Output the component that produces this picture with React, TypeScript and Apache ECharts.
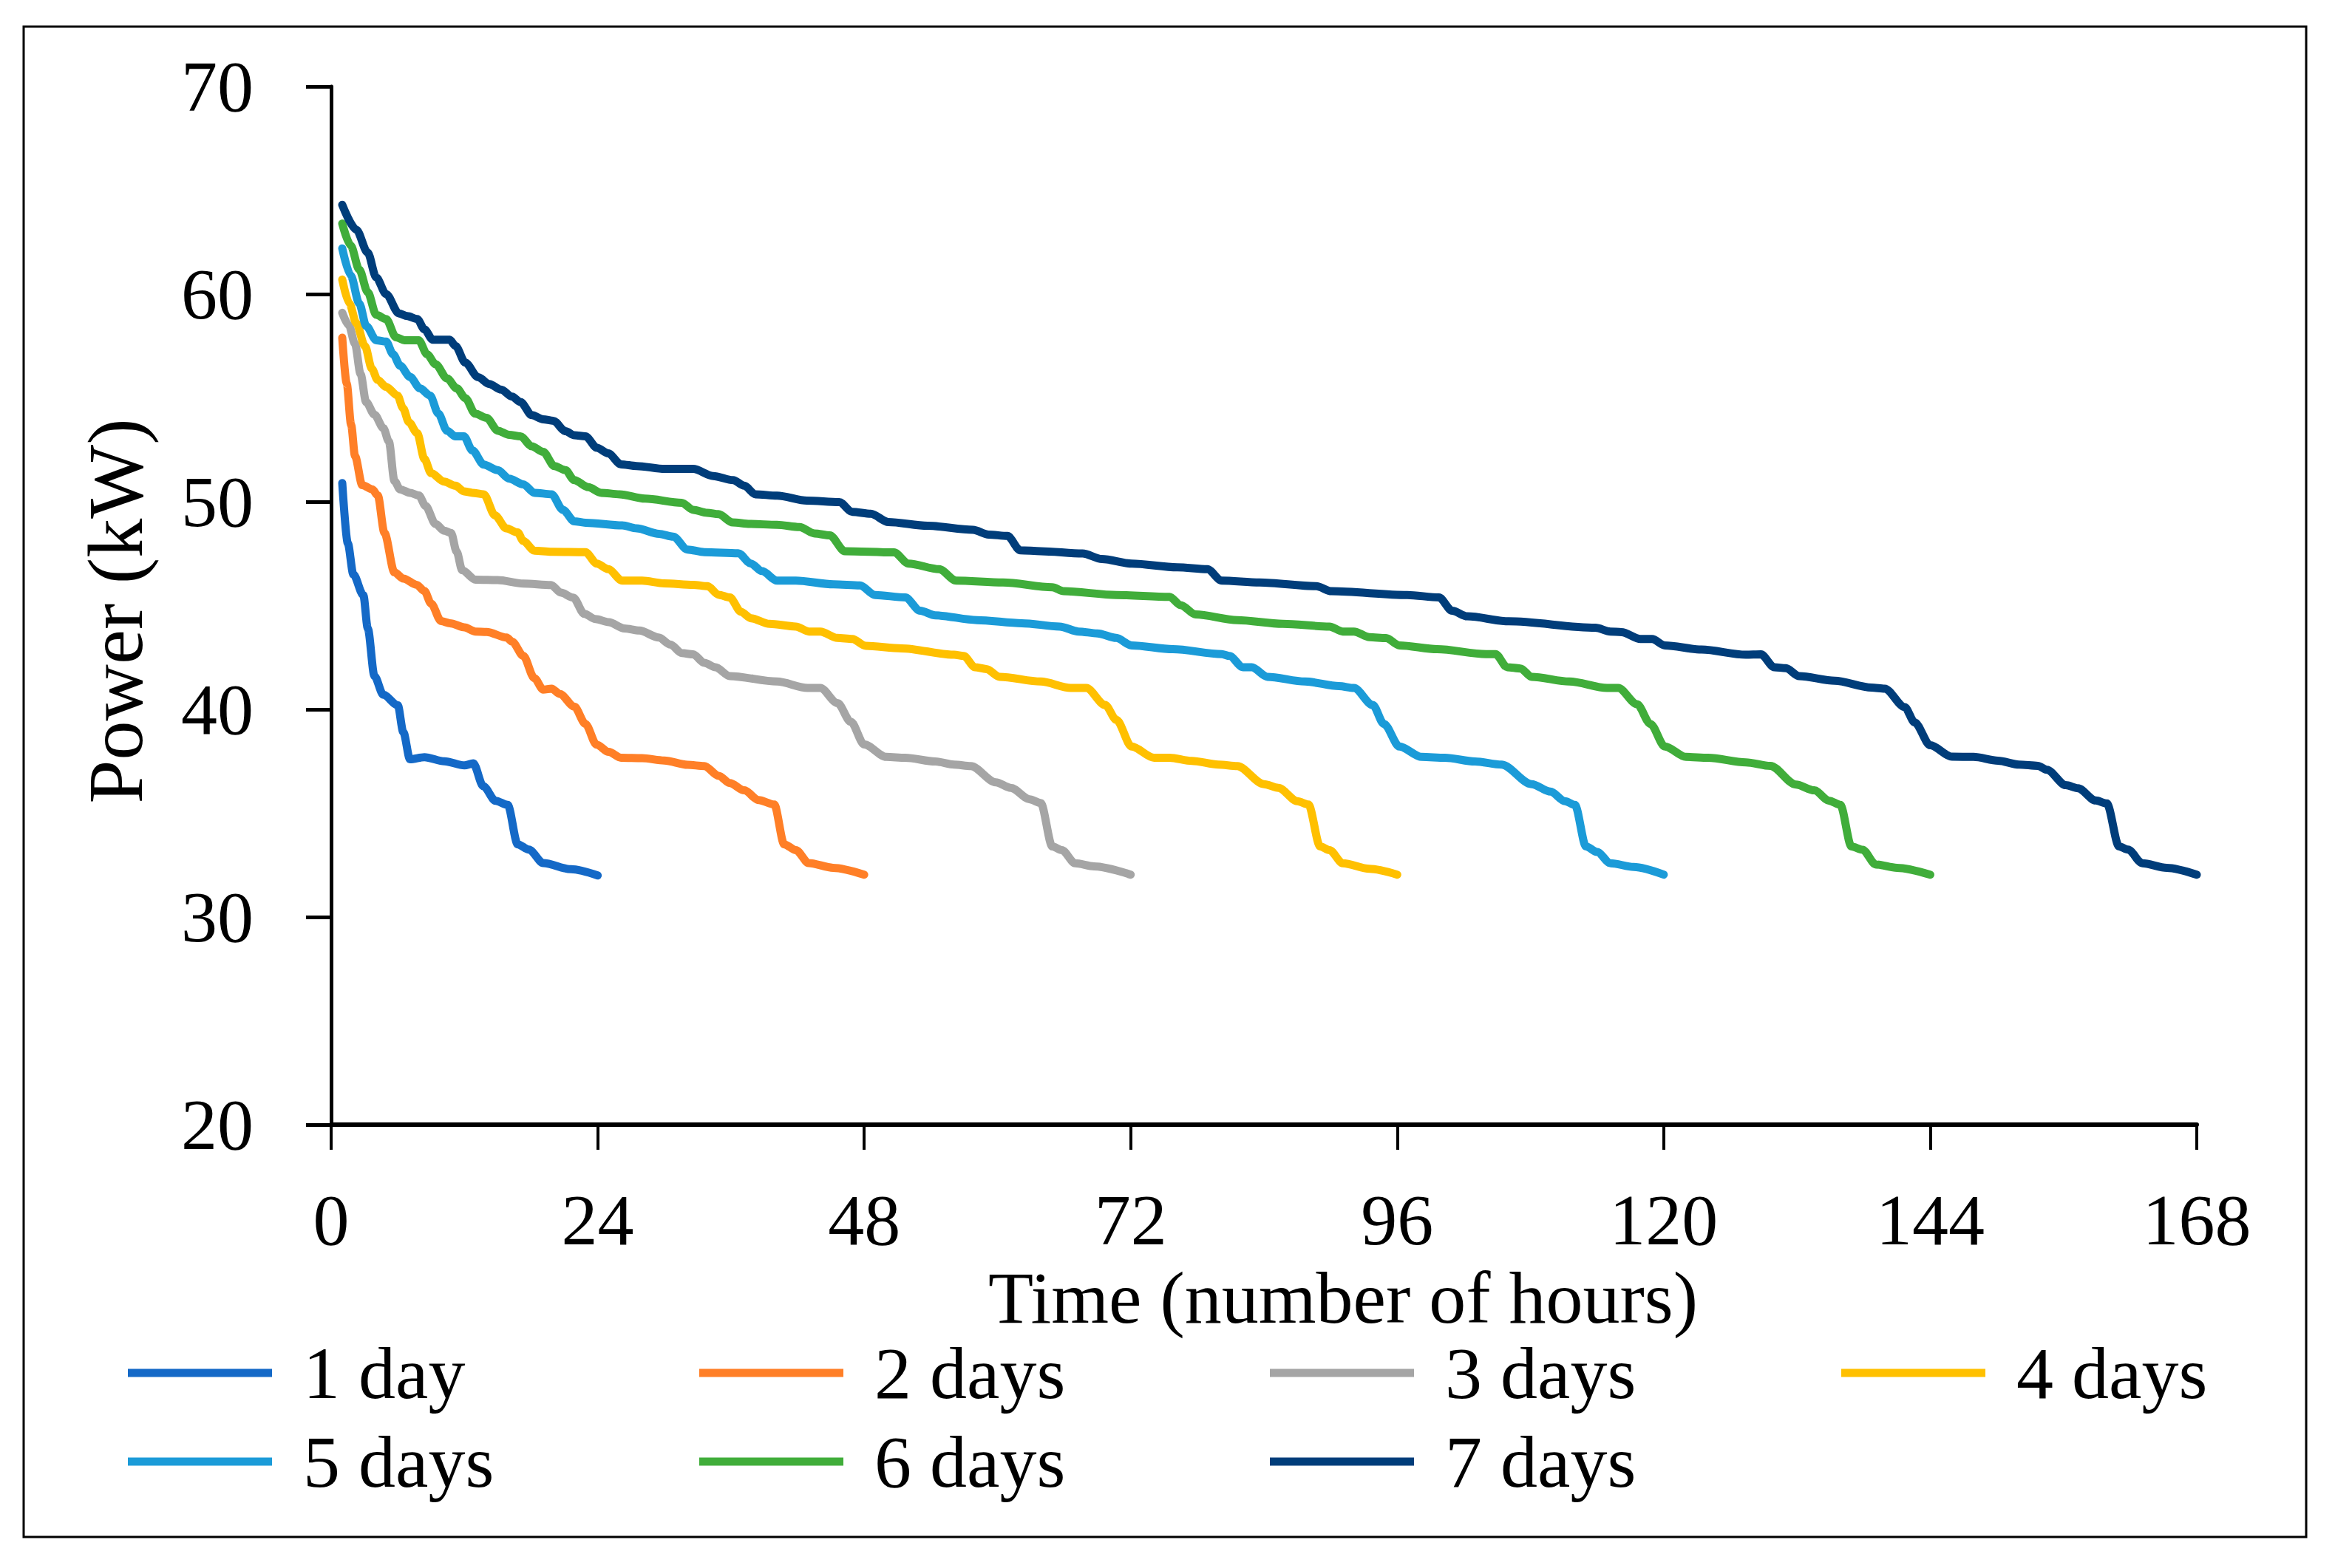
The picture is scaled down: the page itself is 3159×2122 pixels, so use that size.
import React, { useEffect, useRef } from "react";
import * as echarts from "echarts";

const seriesNames = ["1 day", "2 days", "3 days", "4 days", "5 days", "6 days", "7 days"];
const seriesColors = ["#1469C7", "#FF7F27", "#A5A5A5", "#FFC000", "#1B9BD8", "#40AD3A", "#003D7A"];
const xTicks = [0, 24, 48, 72, 96, 120, 144, 168];
const yTicks = [20, 30, 40, 50, 60, 70];

const day1 = [[1,50.9],[1.5,48.0],[2.0,46.5],[2.9,45.5],[3.3,43.9],[3.9,41.6],[4.7,40.7],[6.0,40.2],[6.5,38.9],[7.1,37.6],[8.4,37.7],[10.2,37.5],[12.0,37.3],[12.8,37.4],[13.7,36.3],[14.8,35.6],[15.9,35.4],[16.8,33.5],[17.8,33.25],[19.1,32.6],[21.6,32.3],[24,32.0]];

const day2 = [[1,57.9],[1.4,55.7],[1.8,53.7],[2.15,52.2],[2.8,50.8],[3.7,50.6],[4.2,50.3],[4.8,48.5],[5.7,46.6],[6.5,46.3],[7.7,46.0],[8.4,45.7],[9.0,45.1],[9.9,44.25],[10.7,44.15],[12.0,43.95],[13.0,43.75],[14.0,43.73],[15.8,43.46],[16.3,43.26],[17.3,42.58],[18.3,41.5],[19.1,40.95],[19.85,41.0],[20.6,40.74],[21.9,40.13],[22.9,39.3],[23.9,38.3],[25.0,37.95],[26.1,37.67],[28.0,37.65],[30.0,37.54],[32.1,37.33],[33.6,37.27],[34.9,36.8],[35.9,36.45],[37.2,36.1],[38.5,35.63],[39.9,35.42],[40.8,33.5],[41.85,33.22],[43.0,32.6],[45.2,32.37],[48,32.04]];

const day3 = [[1,59.1],[1.6,58.5],[2.15,57.6],[2.65,56.15],[3.15,54.8],[3.9,54.2],[4.7,53.55],[5.2,52.9],[5.7,51.0],[6.2,50.6],[7.1,50.43],[7.9,50.3],[8.5,49.8],[9.4,48.93],[10.2,48.6],[10.8,48.5],[11.3,47.6],[11.8,46.7],[13.0,46.25],[15.0,46.23],[17.3,46.06],[19.8,45.99],[20.7,45.62],[21.8,45.38],[22.8,44.6],[23.8,44.35],[25.0,44.2],[26.4,43.9],[27.75,43.8],[29.5,43.46],[30.55,43.12],[31.57,42.71],[32.6,42.65],[33.6,42.24],[34.6,42.03],[35.9,41.6],[40.15,41.34],[42.9,41.03],[44.05,41.03],[45.6,40.3],[46.8,39.4],[48.0,38.31],[50.0,37.71],[51.7,37.67],[54.4,37.49],[56.1,37.34],[57.6,37.27],[59.85,36.49],[61.2,36.22],[62.9,35.67],[63.9,35.49],[64.94,33.4],[65.8,33.22],[67.0,32.59],[68.7,32.44],[72,32.04]];

const day4 = [[1,60.7],[1.64,59.55],[2.27,58.6],[3.04,57.5],[3.67,56.4],[4.18,55.87],[4.95,55.53],[5.97,55.12],[6.48,54.5],[7.0,53.83],[7.75,53.3],[8.4,52.06],[9.0,51.38],[10.17,50.97],[11.2,50.77],[11.95,50.5],[12.72,50.43],[13.74,50.36],[14.76,49.34],[15.77,48.72],[16.8,48.52],[17.3,48.11],[18.32,47.64],[19.85,47.59],[22.9,47.57],[23.93,47.02],[24.95,46.75],[26.22,46.2],[28.0,46.2],[30.0,46.07],[32.6,46.0],[33.9,45.93],[34.9,45.52],[35.9,45.39],[36.9,44.7],[37.8,44.39],[39.47,44.12],[41.85,43.99],[43.03,43.75],[44.05,43.75],[45.58,43.44],[46.94,43.39],[48.13,43.06],[51.36,42.94],[56.1,42.63],[56.96,42.57],[57.98,42.03],[59.0,41.94],[60.2,41.57],[63.9,41.34],[66.6,41.03],[68.0,41.03],[69.7,40.21],[70.72,39.49],[72.08,38.21],[74.1,37.67],[75.5,37.67],[77.5,37.52],[79.9,37.34],[81.6,37.27],[84.0,36.4],[85.3,36.22],[87.0,35.58],[88.0,35.42],[89.06,33.4],[89.9,33.22],[91.1,32.59],[93.5,32.32],[96,32.04]];

const day5 = [[1,62.2],[1.76,60.9],[2.53,59.55],[3.16,58.46],[4.06,57.78],[4.95,57.71],[5.58,57.1],[6.22,56.55],[7.11,56.01],[8.0,55.46],[8.9,55.12],[9.66,54.24],[10.43,53.42],[11.19,53.15],[11.95,53.15],[12.72,52.47],[13.74,51.79],[15.0,51.52],[16.03,51.11],[17.3,50.84],[18.32,50.43],[19.85,50.36],[20.87,49.61],[21.89,49.06],[22.91,48.99],[26.22,48.86],[27.5,48.72],[29.53,48.45],[30.8,48.32],[32.08,47.7],[33.61,47.57],[36.67,47.52],[37.8,47.02],[38.79,46.66],[40.15,46.2],[41.85,46.2],[45.24,46.02],[47.62,45.97],[48.98,45.51],[51.7,45.39],[53.05,44.75],[54.4,44.53],[58.15,44.3],[62.2,44.15],[65.6,43.99],[67.3,43.75],[69.0,43.66],[70.7,43.44],[72.08,43.08],[75.8,42.9],[80.2,42.66],[80.9,42.57],[82.1,42.03],[82.9,42.03],[84.3,41.57],[87.7,41.34],[90.76,41.12],[92.1,41.03],[93.8,40.21],[94.8,39.3],[96.2,38.21],[98.2,37.71],[100.3,37.67],[103.0,37.49],[105.4,37.34],[108.1,36.4],[109.8,36.04],[111.1,35.58],[112.0,35.4],[113.0,33.4],[114.0,33.13],[115.2,32.59],[117.3,32.41],[120,32.04]];

const day6 = [[1,63.4],[1.76,62.34],[2.53,61.18],[3.29,60.1],[4.06,59.0],[4.95,58.8],[5.84,57.92],[6.6,57.78],[7.88,57.78],[8.64,57.1],[9.41,56.62],[10.43,55.94],[11.32,55.46],[12.08,54.99],[12.97,54.24],[13.99,54.04],[15.01,53.42],[16.03,53.22],[17.05,53.15],[18.07,52.67],[19.09,52.4],[20.1,51.72],[21.1,51.52],[21.89,51.04],[23.16,50.7],[24.31,50.43],[25.97,50.36],[28.26,50.15],[31.57,49.95],[32.6,49.61],[33.86,49.47],[34.88,49.4],[36.16,49.0],[37.7,48.93],[40.15,48.89],[42.18,48.78],[43.54,48.47],[44.9,48.38],[46.26,47.62],[50.68,47.56],[52.0,47.02],[54.75,46.75],[56.28,46.2],[60.5,46.11],[64.94,45.88],[65.96,45.69],[70.72,45.51],[75.5,45.42],[76.5,45.02],[77.85,44.57],[81.6,44.3],[85.7,44.12],[89.9,43.99],[91.1,43.75],[92.1,43.75],[93.5,43.48],[95.0,43.43],[96.2,43.08],[99.6,42.9],[104.0,42.66],[104.85,42.66],[105.9,42.03],[107.1,41.97],[108.1,41.57],[111.5,41.34],[114.9,41.03],[115.9,41.03],[117.6,40.25],[118.8,39.3],[120.1,38.21],[122.0,37.71],[124.0,37.67],[127.4,37.45],[129.6,37.28],[131.9,36.38],[133.55,36.1],[134.9,35.6],[135.9,35.4],[136.9,33.4],[137.9,33.24],[139.1,32.53],[141.0,32.37],[144,32.04]];

const day7 = [[1,64.3],[2.27,63.1],[3.29,62.0],[4.06,60.8],[4.95,60.0],[6.1,59.07],[6.86,58.94],[7.75,58.8],[8.4,58.3],[9.15,57.8],[10.68,57.8],[11.2,57.5],[12.08,56.7],[13.23,56.0],[14.25,55.67],[15.3,55.4],[16.3,55.06],[17.05,54.8],[18.07,54.17],[19.1,53.97],[20.0,53.9],[21.1,53.4],[21.9,53.2],[22.9,53.15],[23.93,52.6],[24.95,52.33],[26.1,51.8],[27.5,51.72],[30.04,51.58],[32.6,51.58],[34.4,51.24],[36.2,51.04],[37.2,50.77],[38.2,50.36],[40.15,50.29],[42.86,50.05],[45.75,49.98],[46.94,49.51],[48.6,49.42],[50.17,49.02],[53.7,48.84],[57.8,48.65],[59.2,48.42],[60.9,48.35],[62.06,47.66],[63.9,47.62],[67.66,47.51],[69.4,47.24],[72.1,47.02],[76.2,46.84],[78.9,46.75],[80.2,46.2],[83.6,46.11],[88.7,45.93],[90.08,45.69],[96.9,45.51],[99.76,45.39],[100.95,44.75],[102.3,44.48],[106.04,44.24],[113.85,43.93],[115.2,43.75],[116.2,43.72],[117.9,43.39],[118.95,43.39],[120.1,43.08],[123.4,42.88],[127.4,42.63],[128.75,42.65],[129.95,42.03],[131.0,41.98],[132.2,41.6],[135.4,41.38],[138.7,41.05],[139.9,41.0],[141.7,40.11],[142.6,39.37],[144.0,38.27],[145.95,37.72],[147.9,37.71],[150.1,37.53],[152.0,37.34],[153.7,37.28],[154.5,37.09],[156.2,36.35],[157.3,36.2],[158.9,35.61],[159.9,35.47],[161.0,33.4],[161.8,33.25],[163.1,32.59],[165.3,32.37],[168,32.04]];

const allData = [day1, day2, day3, day4, day5, day6, day7];

const FONT = "'Liberation Serif', 'Times New Roman', serif";
const legendLefts = [173, 946, 1718, 2491, 173, 946, 1718];
const legendTops = [1808, 1808, 1808, 1808, 1928, 1928, 1928];

function buildOption() {
  return {
    animation: false,
    backgroundColor: "#ffffff",
    textStyle: { fontFamily: FONT },
    grid: { left: 448, right: 187, top: 117, bottom: 600, containLabel: false },
    xAxis: {
      type: "value",
      min: xTicks[0],
      max: xTicks[xTicks.length - 1],
      interval: 24,
      axisLine: { show: true, onZero: false, lineStyle: { color: "#000", width: 6 } },
      axisTick: { show: true, inside: false, length: 34, lineStyle: { color: "#000", width: 4 } },
      splitLine: { show: false },
      axisLabel: { color: "#000", fontSize: 98, fontFamily: FONT, margin: 80 },
    },
    yAxis: {
      type: "value",
      min: yTicks[0],
      max: yTicks[yTicks.length - 1],
      interval: 10,
      axisLine: { show: true, lineStyle: { color: "#000", width: 5 } },
      axisTick: { show: true, inside: false, length: 34, lineStyle: { color: "#000", width: 5 } },
      splitLine: { show: false },
      axisLabel: { color: "#000", fontSize: 98, fontFamily: FONT, margin: 105 },
    },
    legend: seriesNames.map((n, i) => ({
      data: [n],
      left: legendLefts[i],
      top: legendTops[i],
      icon: "rect",
      itemWidth: 195,
      itemHeight: 11,
      selectedMode: false,
      padding: 0,
      textStyle: { color: "#000", fontSize: 100, fontFamily: FONT, lineHeight: 80, padding: [0, 0, 0, 37] },
    })),
    graphic: [
      {
        type: "rect",
        shape: { x: 32, y: 36, width: 3088, height: 2044 },
        style: { fill: "none", stroke: "#000", lineWidth: 3 },
        silent: true,
      },
      {
        type: "text",
        x: 1817,
        y: 1756,
        style: {
          text: "Time (number of hours)",
          fontSize: 100,
          fontFamily: FONT,
          fill: "#000",
          lineHeight: 70,
          textAlign: "center",
          textVerticalAlign: "middle",
        },
      },
      {
        type: "text",
        x: 156,
        y: 827,
        rotation: Math.PI / 2,
        style: {
          text: "Power (kW)",
          fontSize: 106,
          fontFamily: FONT,
          fill: "#000",
          textAlign: "center",
          textVerticalAlign: "middle",
        },
      },
    ],
    series: allData.map((d, i) => ({
      name: seriesNames[i],
      type: "line",
      data: d,
      showSymbol: false,
      symbol: "none",
      smooth: 0.3,
      smoothMonotone: "x",
      color: seriesColors[i],
      itemStyle: { color: seriesColors[i] },
      lineStyle: { color: seriesColors[i], width: 11, cap: "round", join: "round" },
      z: 2 + i,
    })),
  };
}

export default function App() {
  const ref = useRef<HTMLDivElement>(null);
  useEffect(() => {
    document.body.style.margin = "0";
    const chart = echarts.init(ref.current as HTMLDivElement, null, { renderer: "svg" });
    chart.setOption(buildOption() as any);
    return () => {
      chart.dispose();
    };
  }, []);
  return <div ref={ref} style={{ width: 3159, height: 2122 }} />;
}
